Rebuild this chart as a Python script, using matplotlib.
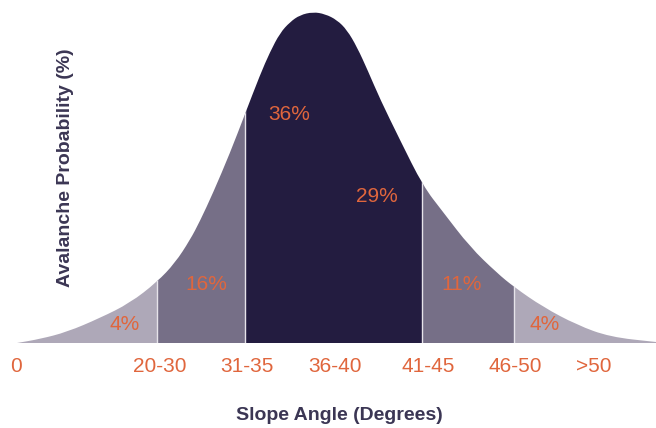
import matplotlib
matplotlib.use("Agg")
import matplotlib.pyplot as plt
import numpy as np
from matplotlib.path import Path
from matplotlib.patches import PathPatch

# outline of the bell curve (position, height above baseline)
curve_x = [17, 40, 67, 100, 130, 157, 175, 190, 200, 213, 230, 245, 260, 270, 280, 290,
           300, 313, 325, 337, 347, 357, 368, 380, 400, 423, 443, 470, 497, 514,
           543, 577, 610, 656]
curve_h = [0, 4, 11, 25, 40, 61, 80, 103, 122, 150, 190, 229, 268, 291, 310, 321,
           328, 331, 329, 323, 313, 296, 272, 244, 203, 157, 131, 96, 70, 56,
           36, 18, 6, 1]

# slope bands
band_edges = [17, 157, 245, 422, 514, 656]
band_colors = ['#aea8b8', '#766f87', '#231c40', '#766f87', '#aea8b8']

# percentages and where they sit
pct_labels = ['4%', '16%', '36%', '29%', '11%', '4%']
pct_x = [125, 206, 289, 377, 462, 545]
pct_h = [18, 58, 229, 146, 58, 18]

# category labels under the curve
tick_pos = [16, 160, 247, 335, 428, 515, 594]
tick_labels = ['0', '20-30', '31-35', '36-40', '41-45', '46-50', '>50']

orange = '#e0663d'
ink = '#3b3654'

fig = plt.figure(figsize=(6.56, 4.28), dpi=100)
ax = fig.add_axes([0, 85 / 428, 1, 343 / 428])
ax.set_xlim(0, 656)
ax.set_ylim(0, 343)
for s in ax.spines.values():
    s.set_visible(False)

# smooth outline: quadratic segments through midpoints
pts = np.column_stack([curve_x, curve_h]).astype(float)
verts = [tuple(pts[0]), tuple((pts[0] + pts[1]) / 2)]
codes = [Path.MOVETO, Path.LINETO]
for i in range(1, len(pts) - 1):
    verts += [tuple(pts[i]), tuple((pts[i] + pts[i + 1]) / 2)]
    codes += [Path.CURVE3, Path.CURVE3]
verts += [tuple(pts[-1]), (pts[-1][0], 0), (pts[0][0], 0), (pts[0][0], 0)]
codes += [Path.LINETO, Path.LINETO, Path.LINETO, Path.CLOSEPOLY]
shape = PathPatch(Path(verts, codes), facecolor='none', edgecolor='none',
                  transform=ax.transData)
ax.add_patch(shape)

lefts = band_edges[:-1]
widths = np.diff(band_edges)
bars = ax.bar(lefts, [343] * len(lefts), width=widths, align='edge',
              color=band_colors, linewidth=0)
for b in bars:
    b.set_clip_path(shape)

seps = ax.vlines(band_edges[1:-1], 0, 343, colors='#e6e3ea', linewidth=1)
seps.set_clip_path(shape)

for lab, x, h in zip(pct_labels, pct_x, pct_h):
    ax.text(x, h, lab, color=orange, fontsize=15, family='Liberation Sans',
            ha='center', va='center')

ax.set_xticks(tick_pos, tick_labels)
ax.tick_params(axis='x', length=0, pad=10, labelsize=15, labelcolor=orange)
for t in ax.get_xticklabels():
    t.set_family('Liberation Sans')
ax.set_yticks([])

lab_font = ['Liberation Sans Narrow', 'Liberation Sans']
xl = ax.set_xlabel('Slope Angle (Degrees)', fontsize=14, fontweight='bold',
                   color=ink, family=lab_font, va='center')
ax.xaxis.set_label_coords(339 / 656, -72 / 343)
yl = ax.set_ylabel('Avalanche Probability (%)', fontsize=14, fontweight='bold',
                   color=ink, family=lab_font, va='center')
ax.yaxis.set_label_coords(66 / 656, (343 - 168) / 343)

fig.savefig('out.png', dpi=100)
